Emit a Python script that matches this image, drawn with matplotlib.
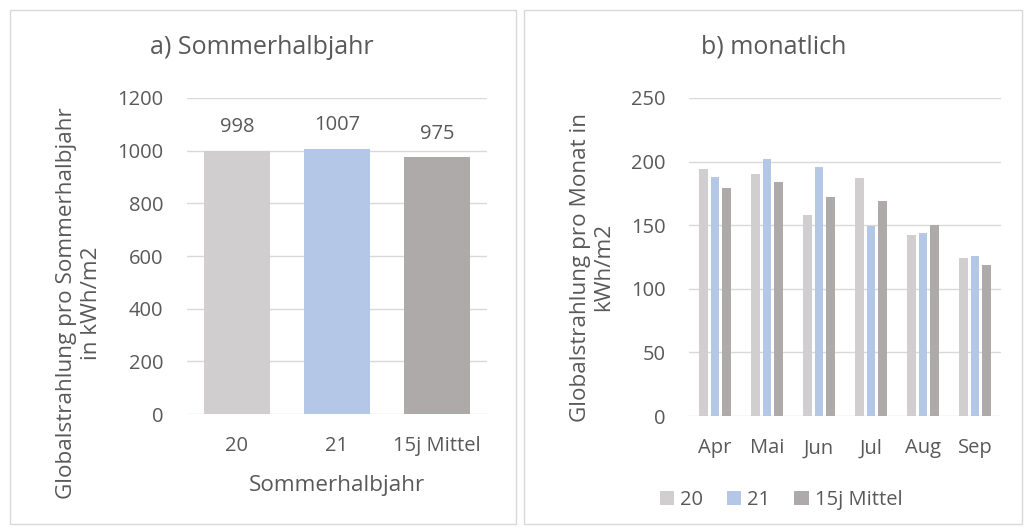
import matplotlib
matplotlib.use("Agg")
import matplotlib.pyplot as plt
import numpy as np
from matplotlib.patches import Rectangle

plt.rcParams['font.family'] = ['Open Sans', 'DejaVu Sans']

# Data
season_cats = ["20", "21", "15j Mittel"]
season_vals = [998, 1007, 975]
months = ["Apr", "Mai", "Jun", "Jul", "Aug", "Sep"]
series_names = ["20", "21", "15j Mittel"]
m_20 = [194, 190, 158, 187, 142, 124]
m_21 = [188, 202, 196, 149, 144, 126]
m_mittel = [179, 184, 172, 169, 150, 119]

colors = ["#D0CECE", "#B4C7E7", "#AEAAAA"]
txt = "#595959"
grid = "#D9D9D9"

W, H = 1029, 531
fig = plt.figure(figsize=(W/100, H/100), dpi=100)

def fx(px): return px / W
def fy(py): return 1 - py / H

TICK = 14.5
LAB = 16.2
TITLE = 18

# Panel borders
for x0, x1 in [(10, 516), (524, 1022)]:
    fig.add_artist(Rectangle((fx(x0), fy(524)), fx(x1 - x0), (524 - 10) / H,
                             transform=fig.transFigure, fill=False,
                             edgecolor=grid, linewidth=1))

def style(ax):
    for s in ax.spines.values():
        s.set_visible(False)
    ax.tick_params(axis='both', length=0, colors=txt, labelsize=TICK)
    ax.tick_params(axis='y', pad=17)
    ax.tick_params(axis='x', pad=16)
    ax.yaxis.grid(True, color=grid, linewidth=1)
    ax.set_axisbelow(True)

# Left axes
axL = fig.add_axes([fx(187), fy(414), fx(487 - 187), (414 - 98) / H])
x = np.arange(len(season_cats))
axL.bar(x, season_vals, width=0.66, color=colors)
axL.set_ylim(0, 1200)
axL.set_yticks(range(0, 1201, 200))
axL.set_xlim(-0.5, 2.5)
axL.set_xticks(x)
axL.set_xticklabels(season_cats)
style(axL)
for xi, v in zip(x, season_vals):
    axL.text(xi, v + 90, str(v), ha='center', va='center', color=txt, fontsize=TICK)
fig.text(fx(337), fy(485), "Sommerhalbjahr", ha='center', va='center', color=txt, fontsize=LAB)
fig.text(fx(79), fy(303), "Globalstrahlung pro Sommerhalbjahr\nin kWh/m2", ha='center', va='center',
         rotation=90, color=txt, fontsize=LAB, linespacing=1.25)
fig.text(fx(262), fy(47), "a) Sommerhalbjahr", ha='center', va='center', color=txt, fontsize=TITLE)

# Right axes
axR = fig.add_axes([fx(689), fy(416), fx(1001 - 689), (416 - 98) / H])
xm = np.arange(len(months))
bw = 0.17
step = 0.225
for i, (name, vals) in enumerate(zip(series_names, [m_20, m_21, m_mittel])):
    axR.bar(xm + (i - 1) * step, vals, width=bw, color=colors[i], label=name)
axR.set_ylim(0, 250)
axR.set_yticks(range(0, 251, 50))
axR.set_xlim(-0.5, 5.5)
axR.set_xticks(xm)
axR.set_xticklabels(months)
style(axR)
fig.text(fx(592), fy(267), "Globalstrahlung pro Monat in\nkWh/m2", ha='center', va='center',
         rotation=90, color=txt, fontsize=LAB, linespacing=1.15)
fig.text(fx(774), fy(47), "b) monatlich", ha='center', va='center', color=txt, fontsize=TITLE)
axR.legend(loc='center', bbox_to_anchor=(fx(781), fy(500)), bbox_transform=fig.transFigure,
           ncol=3, frameon=False, fontsize=TICK, handlelength=0.7, handleheight=0.7,
           handletextpad=0.3, columnspacing=1.2, labelcolor=txt)

fig.savefig("out.png", dpi=100, facecolor='white')
